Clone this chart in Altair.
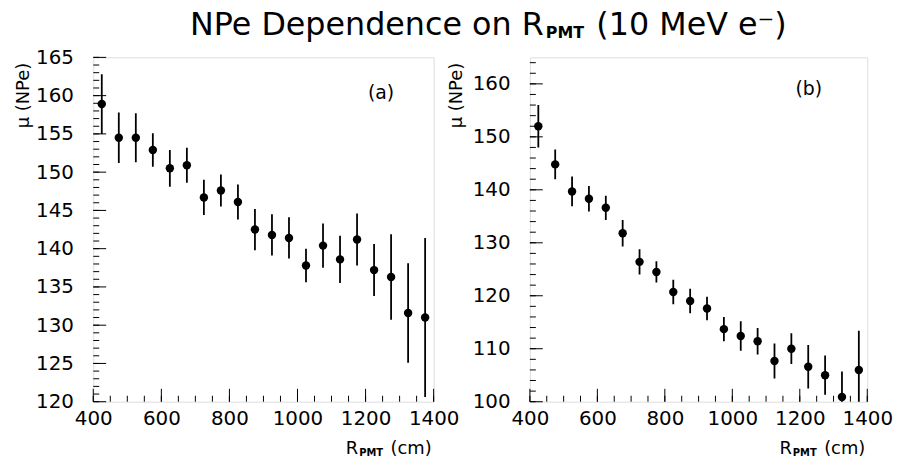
import altair as alt
import pandas as pd
import numpy as np

# ---- data ----
r_pmt = [425, 475, 525, 575, 625, 675, 725, 775, 825, 875,
         925, 975, 1025, 1075, 1125, 1175, 1225, 1275, 1325, 1375]

mu_a = [158.9, 154.5, 154.5, 152.9, 150.5, 150.9, 146.7, 147.6, 146.1, 142.5,
        141.8, 141.4, 137.8, 140.4, 138.6, 141.2, 137.2, 136.3, 131.6, 131.0]
err_a = [3.9, 3.3, 3.2, 2.2, 2.4, 2.3, 2.3, 2.1, 2.3, 2.7,
         2.7, 2.7, 2.2, 2.9, 3.1, 3.4, 3.4, 5.6, 6.5, 10.4]

mu_b = [152.0, 144.8, 139.7, 138.3, 136.6, 131.8, 126.4, 124.5, 120.7, 119.0,
        117.6, 113.7, 112.4, 111.4, 107.7, 110.0, 106.6, 105.0, 100.9, 106.0]
err_b = [4.0, 2.8, 2.8, 2.4, 2.3, 2.5, 2.4, 2.0, 2.3, 2.3,
         2.2, 2.3, 2.8, 2.5, 3.3, 2.9, 4.1, 3.7, 4.8, 7.4]

x_labels = [400, 600, 800, 1000, 1200, 1400]
x_minor = list(range(400, 1401, 50))

ya_labels = [120, 125, 130, 135, 140, 145, 150, 155, 160, 165]
ya_minor = list(range(120, 166, 1))
yb_labels = [100, 110, 120, 130, 140, 150, 160]
yb_minor = list(range(100, 165, 2))

title_main = "NPe Dependence on R"
title_sub = "PMT"
title_tail = "(10 MeV e\u207b)"
xtitle_main = "R"
xtitle_sub = "PMT"
xtitle_tail = "(cm)"
ytitle = "\u03bc (NPe)"

FONT = "DejaVu Sans"
H = 347


def txt(s, x, y, size, align="left", weight="normal", baseline="alphabetic"):
    return alt.Chart(pd.DataFrame({"t": [s]})).mark_text(
        align=align, baseline=baseline, font=FONT, fontSize=size,
        fontWeight=weight, color="black"
    ).encode(text="t:N", x=alt.value(x), y=alt.value(y))


def panel(mu, err, ydom, ylab, yminor, W, label, lab_x, lab_y, ytitle_x, extra=None):
    mu = np.array(mu)
    err = np.array(err)
    df = pd.DataFrame({"r": r_pmt, "mu": mu, "lo": mu - err, "hi": mu + err})
    xs = alt.Scale(domain=[400, 1400], nice=False, zero=False)
    ys = alt.Scale(domain=ydom, nice=False, zero=False)
    xaxis = alt.Axis(values=x_labels, title=None, ticks=False, domain=False, grid=False,
                     labelFont=FONT, labelFontSize=20, labelColor="black", labelPadding=7,
                     labelFlush=False, labelOverlap=False, format="d")
    yaxis = alt.Axis(values=ylab, title=ytitle, ticks=False, domain=False, grid=False,
                     labelFont=FONT, labelFontSize=20, labelColor="black", labelPadding=20,
                     labelFlush=False, labelOverlap=False, format="d",
                     titleFont=FONT, titleFontSize=18, titleFontWeight="normal",
                     titleColor="black", titleX=ytitle_x, titleY=5, titleAlign="right",
                     titleBaseline="bottom", titleAngle=270)

    def X(f):
        return alt.X(f, type="quantitative", scale=xs, axis=xaxis, title=None)

    def Y(f):
        return alt.Y(f, type="quantitative", scale=ys, axis=yaxis, title=ytitle)

    base = alt.Chart(df)
    bars = base.mark_rule(color="black", strokeWidth=1.8, clip=True).encode(
        x=X("r"), y=Y("lo"), y2="hi:Q",
    )
    pts = base.mark_circle(color="black", size=72, opacity=1).encode(
        x=X("r"), y=Y("mu")
    )
    ymaj = alt.Chart(pd.DataFrame({"v": ylab})).mark_rule(color="black", strokeWidth=1).encode(
        y=Y("v"), x=alt.value(0), x2=alt.value(13))
    ymin = alt.Chart(pd.DataFrame({"v": yminor})).mark_rule(color="black", strokeWidth=1).encode(
        y=Y("v"), x=alt.value(0), x2=alt.value(6))
    xmaj = alt.Chart(pd.DataFrame({"v": x_labels})).mark_rule(color="black", strokeWidth=1).encode(
        x=X("v"), y=alt.value(H), y2=alt.value(H - 13))
    xmin = alt.Chart(pd.DataFrame({"v": x_minor})).mark_rule(color="black", strokeWidth=1).encode(
        x=X("v"), y=alt.value(H), y2=alt.value(H - 6))
    layers = [bars, pts, ymaj, ymin, xmaj, xmin,
              txt(label, lab_x, lab_y, 19, align="center", baseline="middle"),
              txt(xtitle_main, W - 76, H + 53, 18, align="right"),
              txt(xtitle_sub, W - 75, H + 55, 10, weight="bold"),
              txt(xtitle_tail, W - 2, H + 53, 18, align="right")]
    if extra:
        layers += extra
    return alt.layer(*layers).properties(width=W, height=H)


title_layers = [
    txt(title_main, 454, -23, 32, align="right"),
    txt(title_sub, 456, -20, 16, weight="bold"),
    txt(title_tail, 507, -23, 32),
]

pa = panel(mu_a, err_a, [120, 165], ya_labels, ya_minor, 343, "(a)", 290, 36, -61, title_layers)
pb = panel(mu_b, err_b, [100, 165], yb_labels, yb_minor, 340, "(b)", 281, 32, -65)

chart = alt.hconcat(pa, pb, spacing=97, bounds="flush").properties(
    padding={"left": 14, "top": 6, "right": 9, "bottom": 9},
    background="white",
).configure_view(stroke="black", strokeWidth=1.5).configure(font=FONT)

chart.save("out.html", embed_options={"renderer": "svg", "actions": False})
